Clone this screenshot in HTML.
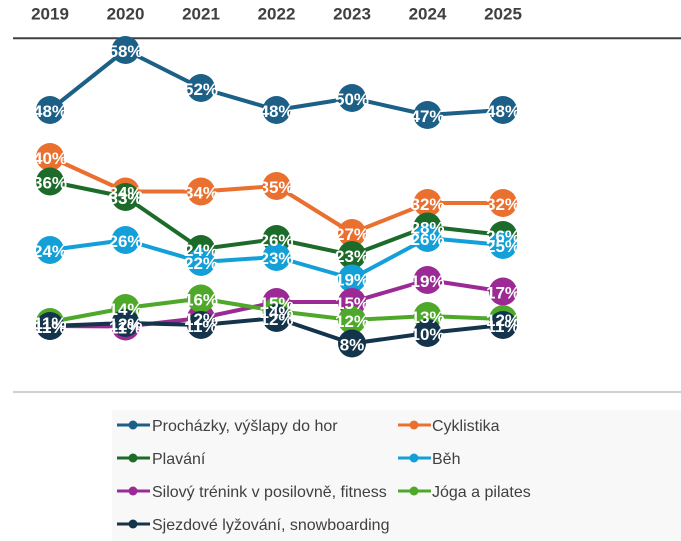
<!DOCTYPE html>
<html>
<head>
<meta charset="utf-8">
<style>
html,body{margin:0;padding:0;background:#fff;}
svg{display:block;}
.yr{font-family:"Liberation Sans",sans-serif;font-size:17px;font-weight:bold;fill:#404040;text-anchor:middle;}
.lb{font-family:"Liberation Sans",sans-serif;font-size:17px;font-weight:bold;fill:#fff;text-anchor:middle;}
.lg{font-family:"Liberation Sans",sans-serif;font-size:16px;fill:#404040;}
</style>
</head>
<body>
<svg width="681" height="541" viewBox="0 0 681 541" xmlns="http://www.w3.org/2000/svg">
<rect x="0" y="0" width="681" height="541" fill="#fff"/>
<text class="yr" x="50" y="19.5">2019</text>
<text class="yr" x="125.5" y="19.5">2020</text>
<text class="yr" x="201" y="19.5">2021</text>
<text class="yr" x="276.5" y="19.5">2022</text>
<text class="yr" x="352" y="19.5">2023</text>
<text class="yr" x="427.5" y="19.5">2024</text>
<text class="yr" x="503" y="19.5">2025</text>
<line x1="13" y1="38.3" x2="681" y2="38.3" stroke="#404040" stroke-width="2"/>
<line x1="13" y1="392" x2="681" y2="392" stroke="#bfbfbf" stroke-width="1.5"/>

<g fill="none" stroke-width="4" stroke-linejoin="round">
<polyline stroke="#1c5f87" points="50,110 125.5,50 201,88 276.5,110 352,98 427.5,115 503,110"/>
<g fill="#1c5f87" stroke="none">
<circle cx="50" cy="110" r="14"/><circle cx="125.5" cy="50" r="14"/><circle cx="201" cy="88" r="14"/><circle cx="276.5" cy="110" r="14"/><circle cx="352" cy="98" r="14"/><circle cx="427.5" cy="115" r="14"/><circle cx="503" cy="110" r="14"/>
</g>
<polyline stroke="#ea7030" points="50,157 125.5,191.5 201,191.5 276.5,186 352,233 427.5,203 503,203"/>
<g fill="#ea7030" stroke="none">
<circle cx="50" cy="157" r="14"/><circle cx="125.5" cy="191.5" r="14"/><circle cx="201" cy="191.5" r="14"/><circle cx="276.5" cy="186" r="14"/><circle cx="352" cy="233" r="14"/><circle cx="427.5" cy="203" r="14"/><circle cx="503" cy="203" r="14"/>
</g>
<polyline stroke="#1d6b2a" points="50,181.5 125.5,197 201,249 276.5,239 352,255 427.5,226.5 503,235"/>
<g fill="#1d6b2a" stroke="none">
<circle cx="50" cy="181.5" r="14"/><circle cx="125.5" cy="197" r="14"/><circle cx="201" cy="249" r="14"/><circle cx="276.5" cy="239" r="14"/><circle cx="352" cy="255" r="14"/><circle cx="427.5" cy="226.5" r="14"/><circle cx="503" cy="235" r="14"/>
</g>
<polyline stroke="#13a0d8" points="50,250 125.5,240 201,262 276.5,257 352,278.5 427.5,238 503,245"/>
<g fill="#13a0d8" stroke="none">
<circle cx="50" cy="250" r="14"/><circle cx="125.5" cy="240" r="14"/><circle cx="201" cy="262" r="14"/><circle cx="276.5" cy="257" r="14"/><circle cx="352" cy="278.5" r="14"/><circle cx="427.5" cy="238" r="14"/><circle cx="503" cy="245" r="14"/>
</g>
<polyline stroke="#9c2a94" points="50,326 125.5,326.5 201,318 276.5,302 352,302 427.5,280 503,291.5"/>
<g fill="#9c2a94" stroke="none">
<circle cx="50" cy="326" r="14"/><circle cx="125.5" cy="326.5" r="14"/><circle cx="201" cy="318" r="14"/><circle cx="276.5" cy="302" r="14"/><circle cx="352" cy="302" r="14"/><circle cx="427.5" cy="280" r="14"/><circle cx="503" cy="291.5" r="14"/>
</g>
<polyline stroke="#4ea82a" points="50,322 125.5,308 201,298.5 276.5,311 352,320 427.5,316 503,319"/>
<g fill="#4ea82a" stroke="none">
<circle cx="50" cy="322" r="14"/><circle cx="125.5" cy="308" r="14"/><circle cx="201" cy="298.5" r="14"/><circle cx="276.5" cy="311" r="14"/><circle cx="352" cy="320" r="14"/><circle cx="427.5" cy="316" r="14"/><circle cx="503" cy="319" r="14"/>
</g>
<polyline stroke="#13344a" points="50,326 125.5,323 201,325 276.5,318 352,343.5 427.5,333 503,325"/>
<g fill="#13344a" stroke="none">
<circle cx="50" cy="326" r="14"/><circle cx="125.5" cy="323" r="14"/><circle cx="201" cy="325" r="14"/><circle cx="276.5" cy="318" r="14"/><circle cx="352" cy="343.5" r="14"/><circle cx="427.5" cy="333" r="14"/><circle cx="503" cy="325" r="14"/>
</g>
</g>

<g>
<text class="lb" x="50" y="117">48%</text><text class="lb" x="125.5" y="57">58%</text><text class="lb" x="201" y="95">52%</text><text class="lb" x="276.5" y="117">48%</text><text class="lb" x="352" y="105">50%</text><text class="lb" x="427.5" y="122">47%</text><text class="lb" x="503" y="117">48%</text>

<text class="lb" x="50" y="164">40%</text><text class="lb" x="125.5" y="198.5">34%</text><text class="lb" x="201" y="198.5">34%</text><text class="lb" x="276.5" y="193">35%</text><text class="lb" x="352" y="240">27%</text><text class="lb" x="427.5" y="210">32%</text><text class="lb" x="503" y="210">32%</text>

<text class="lb" x="50" y="188.5">36%</text><text class="lb" x="125.5" y="204">33%</text><text class="lb" x="201" y="256">24%</text><text class="lb" x="276.5" y="246">26%</text><text class="lb" x="352" y="262">23%</text><text class="lb" x="427.5" y="233.5">28%</text><text class="lb" x="503" y="242">26%</text>

<text class="lb" x="50" y="257">24%</text><text class="lb" x="125.5" y="247">26%</text><text class="lb" x="201" y="269">22%</text><text class="lb" x="276.5" y="264">23%</text><text class="lb" x="352" y="285.5">19%</text><text class="lb" x="427.5" y="245">26%</text><text class="lb" x="503" y="252">25%</text>

<text class="lb" x="50" y="333">11%</text><text class="lb" x="125.5" y="333.5">11%</text><text class="lb" x="201" y="325">12%</text><text class="lb" x="276.5" y="309">15%</text><text class="lb" x="352" y="309">15%</text><text class="lb" x="427.5" y="287">19%</text><text class="lb" x="503" y="298.5">17%</text>

<text class="lb" x="50" y="329">11%</text><text class="lb" x="125.5" y="315">14%</text><text class="lb" x="201" y="305.5">16%</text><text class="lb" x="276.5" y="318">14%</text><text class="lb" x="352" y="327">12%</text><text class="lb" x="427.5" y="323">13%</text><text class="lb" x="503" y="326">12%</text>

<text class="lb" x="50" y="333">11%</text><text class="lb" x="125.5" y="330">12%</text><text class="lb" x="201" y="332">11%</text><text class="lb" x="276.5" y="325">12%</text><text class="lb" x="352" y="350.5">8%</text><text class="lb" x="427.5" y="340">10%</text><text class="lb" x="503" y="332">11%</text>
</g>

<rect x="112" y="410" width="569" height="131" fill="#f8f8f8"/>
<g stroke-width="3">
<line x1="117" y1="425" x2="150" y2="425" stroke="#1c5f87"/><circle cx="133" cy="425" r="4.5" fill="#1c5f87"/>
<line x1="398" y1="425" x2="431" y2="425" stroke="#ea7030"/><circle cx="414" cy="425" r="4.5" fill="#ea7030"/>
<line x1="117" y1="458" x2="150" y2="458" stroke="#1d6b2a"/><circle cx="133" cy="458" r="4.5" fill="#1d6b2a"/>
<line x1="398" y1="458" x2="431" y2="458" stroke="#13a0d8"/><circle cx="414" cy="458" r="4.5" fill="#13a0d8"/>
<line x1="117" y1="491" x2="150" y2="491" stroke="#9c2a94"/><circle cx="133" cy="491" r="4.5" fill="#9c2a94"/>
<line x1="398" y1="491" x2="431" y2="491" stroke="#4ea82a"/><circle cx="414" cy="491" r="4.5" fill="#4ea82a"/>
<line x1="117" y1="524" x2="150" y2="524" stroke="#13344a"/><circle cx="133" cy="524" r="4.5" fill="#13344a"/>
</g>
<text class="lg" x="152" y="431">Procházky, výšlapy do hor</text>
<text class="lg" x="432" y="431">Cyklistika</text>
<text class="lg" x="152" y="464">Plavání</text>
<text class="lg" x="432" y="464">Běh</text>
<text class="lg" x="152" y="497">Silový trénink v posilovně, fitness</text>
<text class="lg" x="432" y="497">Jóga a pilates</text>
<text class="lg" x="152" y="530">Sjezdové lyžování, snowboarding</text>
</svg>
</body>
</html>
